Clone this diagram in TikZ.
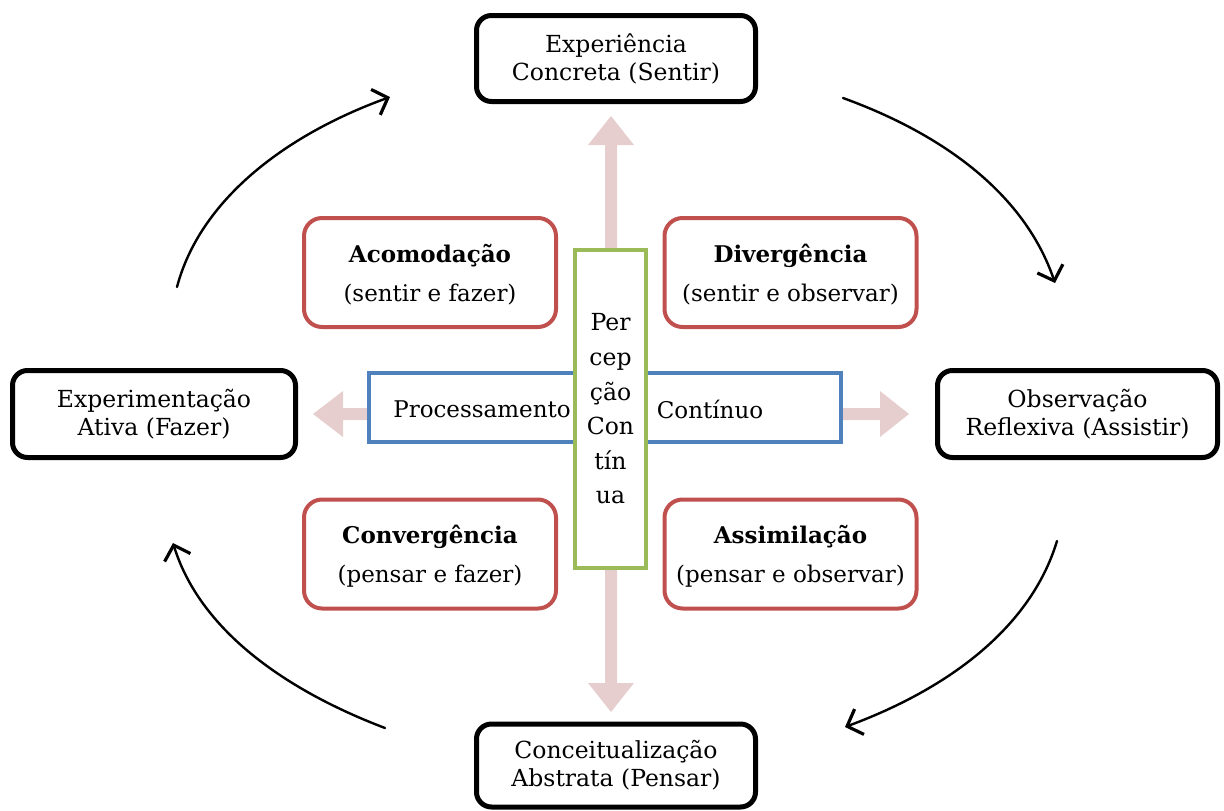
\documentclass[tikz,border=0pt]{standalone}
\usepackage{fontspec}
\setmainfont{DejaVu Serif}
\usetikzlibrary{arrows.meta}
\definecolor{stageline}{RGB}{0,0,0}
\definecolor{stylered}{RGB}{192,80,77}
\definecolor{procblue}{RGB}{79,129,189}
\definecolor{percgreen}{RGB}{155,187,89}
\definecolor{axispink}{RGB}{230,206,206}
\tikzset{
  stagebox/.style={draw=stageline, line width=5pt, rounded corners=15pt, fill=white,
    align=center, inner sep=0pt, font=\fontsize{23.5}{28}\selectfont},
  stylebox/.style={draw=stylered, line width=4pt, rounded corners=18pt, fill=white,
    align=center, inner sep=0pt, minimum width=252pt, minimum height=109pt,
    font=\fontsize{23}{27}\selectfont},
  axisarrow/.style={draw=none, fill=axispink},
  cycle/.style={draw=black, line width=2.4pt, line cap=round,
    -{Straight Barb[length=13pt,width=27pt,line width=3.2pt]}},
  plaintext/.style={inner sep=0pt, font=\fontsize{23}{27}\selectfont}
}
\begin{document}
\begin{tikzpicture}[x=1pt,y=-1pt]
\useasboundingbox (0,0) rectangle (1224,811);

% thick pale arrows of the two axes
\fill[axisarrow] (605,250) -- (605,145) -- (588,145) -- (611,116) -- (634,145) -- (617,145) -- (617,250) -- cycle;
\fill[axisarrow] (605,568) -- (605,683) -- (588,683) -- (611,712) -- (634,683) -- (617,683) -- (617,568) -- cycle;
\fill[axisarrow] (370,408) -- (343,408) -- (343,391) -- (313,414) -- (343,437) -- (343,420) -- (370,420) -- cycle;
\fill[axisarrow] (841,408) -- (880,408) -- (880,391) -- (909,414) -- (880,437) -- (880,420) -- (841,420) -- cycle;

% processing axis
\node[draw=procblue, line width=4pt, fill=white, minimum width=472pt, minimum height=69pt, inner sep=0pt] (proc) at (605,407.5) {};
\node[plaintext] (proclabel) at (482,409) {Processamento};
\node[plaintext] (contlabel) at (710,409) {Contínuo};

% perception axis
\node[draw=percgreen, line width=4pt, fill=white, minimum width=71pt, minimum height=318pt,
  inner sep=0pt, align=center, font=\fontsize{23.5}{34.6}\selectfont] (perc) at (610.5,409)
  {Per\\cep\\ção\\Con\\tín\\ua};

% the four stages
\node[stagebox, minimum width=279pt, minimum height=86pt] (ec) at (616,58.5) {Experiência\\Concreta (Sentir)};
\node[stagebox, minimum width=283pt, minimum height=87pt] (ea) at (154,414) {Experimentação\\Ativa (Fazer)};
\node[stagebox, minimum width=280pt, minimum height=87pt] (or) at (1077.5,414) {Observação\\Reflexiva (Assistir)};
\node[stagebox, minimum width=279pt, minimum height=83pt] (ca) at (616,765.5) {Conceitualização\\Abstrata (Pensar)};

% the four learning styles
\node[stylebox, text depth=-4pt] (acom) at (430,272.5) {\textbf{Acomodação}\\[12pt](sentir e fazer)};
\node[stylebox, text depth=-4pt] (div) at (790.5,272.5) {\textbf{Divergência}\\[12pt](sentir e observar)};
\node[stylebox, text depth=-4pt] (conv) at (430,554) {\textbf{Convergência}\\[12pt](pensar e fazer)};
\node[stylebox, text depth=-4pt] (assim) at (790.5,554) {\textbf{Assimilação}\\[12pt](pensar e observar)};

% the learning cycle
\coordinate (c1s) at (843,98);   \coordinate (c1e) at (1055,283);
\coordinate (c2s) at (1057,541); \coordinate (c2e) at (845,727);
\coordinate (c3s) at (385,728);  \coordinate (c3e) at (173,543);
\coordinate (c4s) at (177,287);  \coordinate (c4e) at (390,97);
\draw[cycle] (c1s) .. controls (945,135) and (1025,195) .. (c1e);
\draw[cycle] (c2s) .. controls (1030,630) and (945,690) .. (c2e);
\draw[cycle] (c3s) .. controls (285,690) and (200,630) .. (c3e);
\draw[cycle] (c4s) .. controls (200,200) and (285,135) .. (c4e);
\end{tikzpicture}
\end{document}
